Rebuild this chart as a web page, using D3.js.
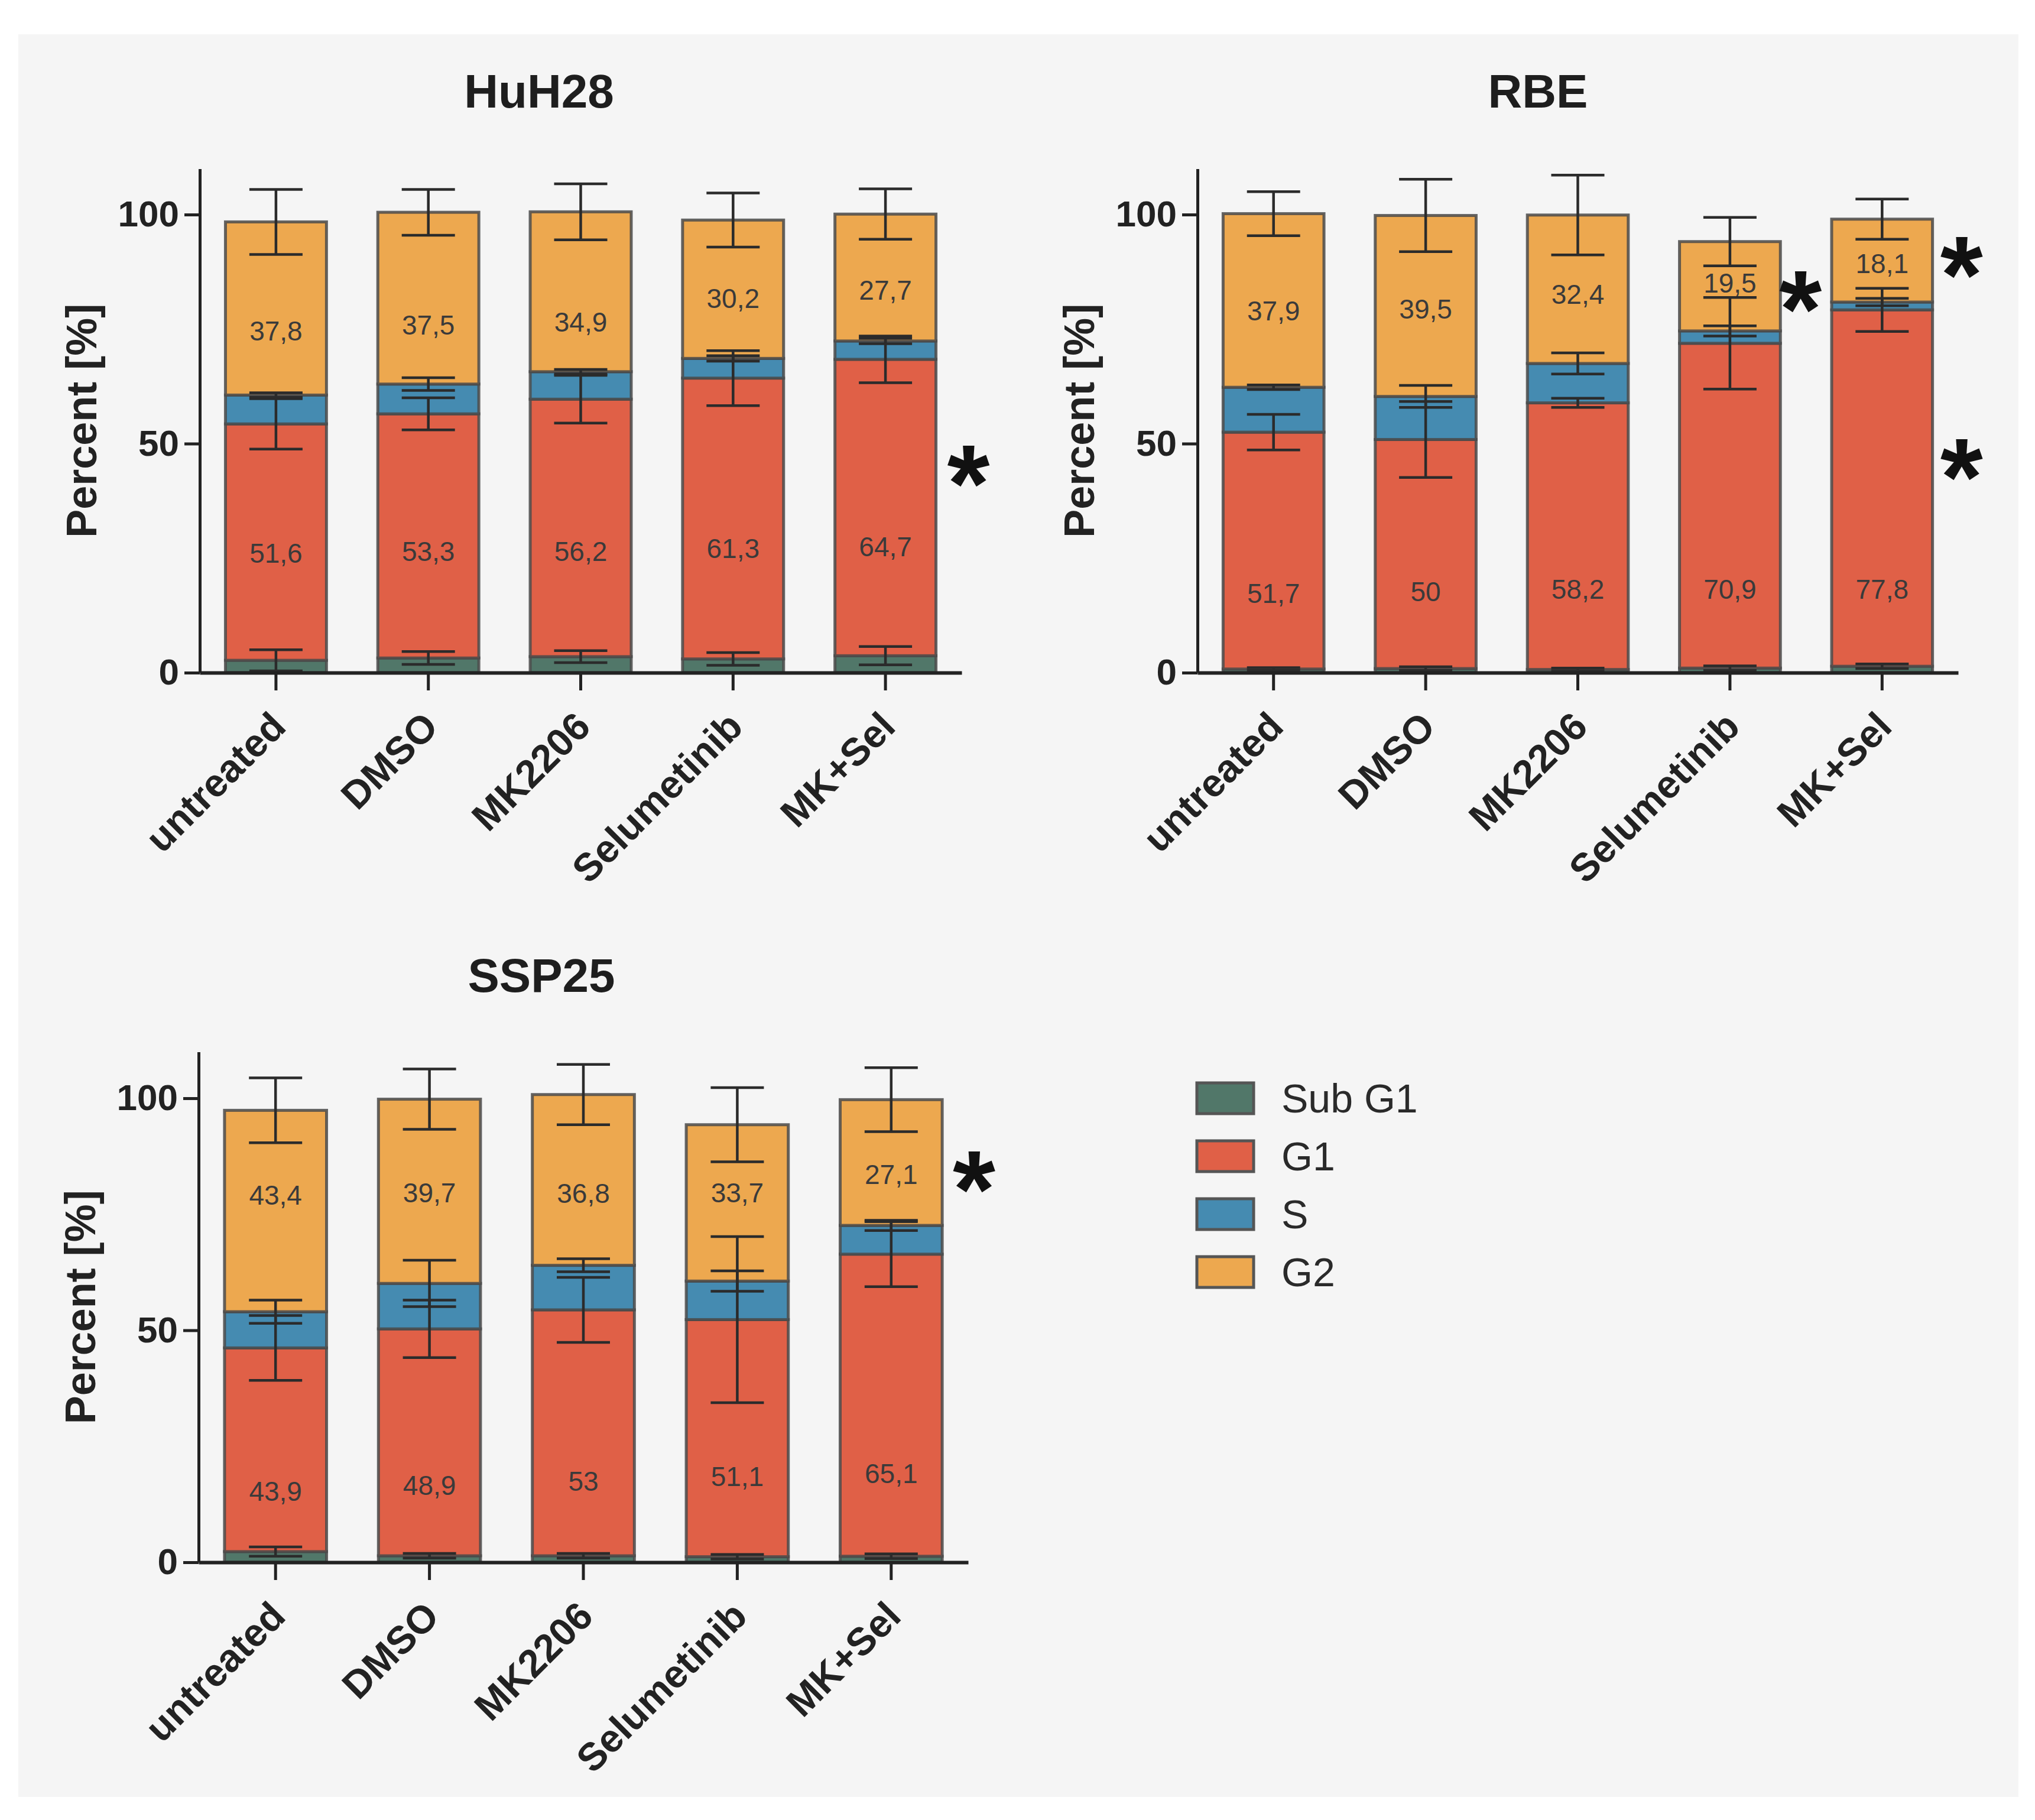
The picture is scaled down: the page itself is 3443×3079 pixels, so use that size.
<!DOCTYPE html>
<html>
<head>
<meta charset="utf-8">
<script src="https://cdn.jsdelivr.net/npm/d3@7"></script>
<style>
  body { margin: 0; background: #ffffff; }
  text { font-family: "Liberation Sans", Arial, sans-serif; }
</style>
</head>
<body>
<div id="chart"></div>
<script>
// SVG area
var svgWidth = 3443;
var svgHeight = 3079;

// Categories and phases
var categories = ["untreated", "DMSO", "MK2206", "Selumetinib", "MK+Sel"];
var phases = ["Sub G1", "G1", "S", "G2"];
var phaseColors = ["#517769", "#E06047", "#458BB1", "#EDA84F"];
var yTicks = [0, 50, 100];

// HuH28 (% of cells per phase, mean and SD)
var huh28SubG1 = [2.7, 3.2, 3.5, 3.0, 3.7];
var huh28G1 = [51.6, 53.3, 56.2, 61.3, 64.7];
var huh28S = [6.3, 6.5, 6.0, 4.3, 4.0];
var huh28G2 = [37.8, 37.5, 34.9, 30.2, 27.7];
var huh28SubG1Err = [2.3, 1.4, 1.3, 1.4, 2.0];
var huh28G1Err = [5.5, 3.5, 5.2, 6.0, 5.1];
var huh28SErr = [0.5, 1.4, 0.5, 0.6, 0.6];
var huh28G2Err = [7.1, 5.0, 6.1, 5.9, 5.5];

// RBE
var rbeSubG1 = [0.8, 0.9, 0.7, 1.0, 1.4];
var rbeG1 = [51.7, 50, 58.2, 70.9, 77.8];
var rbeS = [9.8, 9.4, 8.6, 2.7, 1.7];
var rbeG2 = [37.9, 39.5, 32.4, 19.5, 18.1];
var rbeSubG1Err = [0.3, 0.4, 0.3, 0.5, 0.5];
var rbeG1Err = [3.9, 8.3, 1.0, 10.0, 4.7];
var rbeSErr = [0.5, 2.4, 2.3, 1.1, 0.8];
var rbeG2Err = [4.8, 7.9, 8.7, 5.3, 4.4];

// SSP25
var ssp25SubG1 = [2.3, 1.4, 1.4, 1.2, 1.3];
var ssp25G1 = [43.9, 48.9, 53, 51.1, 65.1];
var ssp25S = [7.8, 9.8, 9.6, 8.3, 6.2];
var ssp25G2 = [43.4, 39.7, 36.8, 33.7, 27.1];
var ssp25SubG1Err = [1.0, 0.5, 0.5, 0.5, 0.5];
var ssp25G1Err = [7.0, 6.2, 7.0, 17.9, 7.0];
var ssp25SErr = [2.5, 5.0, 1.4, 2.2, 1.1];
var ssp25G2Err = [7.0, 6.5, 6.5, 8.0, 6.9];

// where the numbers inside the bars sit (in %)
var huh28G1LabelAt = [26.2, 26.5, 26.5, 27.2, 27.6];
var huh28G2LabelAt = [74.6, 75.9, 76.6, 81.7, 83.6];
var rbeG1LabelAt = [17.4, 17.7, 18.3, 18.3, 18.3];
var rbeG2LabelAt = [79.0, 79.4, 82.7, 85.1, 89.3];
var ssp25G1LabelAt = [15.4, 16.6, 17.5, 18.5, 19.2];
var ssp25G2LabelAt = [79.2, 79.7, 79.5, 79.7, 83.7];

// significance marks: category and level (%)
var huh28Stars = [{ category: "MK+Sel", value: 44.5 }];
var rbeStars = [{ category: "Selumetinib", value: 82.6 }, { category: "MK+Sel", value: 90.1 }, { category: "MK+Sel", value: 45.9 }];
var ssp25Stars = [{ category: "MK+Sel", value: 83.6 }];

var panels = [
  {
    title: "HuH28",
    values: [huh28SubG1, huh28G1, huh28S, huh28G2],
    errors: [huh28SubG1Err, huh28G1Err, huh28SErr, huh28G2Err],
    g1LabelAt: huh28G1LabelAt, g2LabelAt: huh28G2LabelAt,
    stars: huh28Stars, starGap: [55],
    left: 338, right: 1627, zero: 1138, hundred: 363,
    titleX: 912, titleY: 182
  },
  {
    title: "RBE",
    values: [rbeSubG1, rbeG1, rbeS, rbeG2],
    errors: [rbeSubG1Err, rbeG1Err, rbeSErr, rbeG2Err],
    g1LabelAt: rbeG1LabelAt, g2LabelAt: rbeG2LabelAt,
    stars: rbeStars, starGap: [34, 49, 49],
    left: 2026, right: 3313, zero: 1138, hundred: 363,
    titleX: 2602, titleY: 182
  },
  {
    title: "SSP25",
    values: [ssp25SubG1, ssp25G1, ssp25S, ssp25G2],
    errors: [ssp25SubG1Err, ssp25G1Err, ssp25SErr, ssp25G2Err],
    g1LabelAt: ssp25G1LabelAt, g2LabelAt: ssp25G2LabelAt,
    stars: ssp25Stars, starGap: [54],
    left: 336, right: 1638, zero: 2643, hundred: 1858,
    titleX: 916, titleY: 1678
  }
];

var svg = d3.select("#chart")
    .append("svg")
    .attr("width", svgWidth)
    .attr("height", svgHeight);

// grey figure background
svg.append("rect")
    .attr("x", 31)
    .attr("y", 58)
    .attr("width", 3384)
    .attr("height", 2982)
    .attr("fill", "#f5f5f5");

function fmt(v) {
  return String(v).replace(".", ",");
}

function drawPanel(p) {
  var perUnit = (p.zero - p.hundred) / 100;
  var yScale = d3.scaleLinear()
      .domain([0, 110])
      .range([p.zero, p.zero - 110 * perUnit]);
  var xScale = d3.scaleBand()
      .domain(categories)
      .range([p.left, p.right])
      .paddingInner(0.337)
      .paddingOuter(0.1685);
  var bw = xScale.bandwidth();

  var g = svg.append("g");

  // build rows for the stack
  var rows = categories.map(function(c, i) {
    var r = { category: c };
    phases.forEach(function(ph, k) { r[ph] = p.values[k][i]; });
    return r;
  });
  var layers = d3.stack().keys(phases)(rows);

  // bars
  layers.forEach(function(layer, k) {
    g.append("g")
        .selectAll("rect")
        .data(layer)
        .enter()
        .append("rect")
        .attr("x", d => xScale(d.data.category))
        .attr("y", d => yScale(d[1]))
        .attr("width", bw)
        .attr("height", d => yScale(d[0]) - yScale(d[1]))
        .attr("fill", phaseColors[k])
        .attr("stroke", "#4a4a4a")
        .attr("stroke-opacity", 0.85)
        .attr("stroke-width", 5);
  });

  // error bars at the top of each segment
  layers.forEach(function(layer, k) {
    var eg = g.append("g")
        .attr("stroke", "#2b2b2b")
        .attr("stroke-width", 4.5);
    layer.forEach(function(d, i) {
      var cx = xScale(d.data.category) + bw / 2;
      var e = p.errors[k][i];
      var lo = yScale(d[1] - e);
      var hi = yScale(d[1] + e);
      eg.append("line").attr("x1", cx).attr("x2", cx).attr("y1", lo).attr("y2", hi);
      eg.append("line").attr("x1", cx - 45).attr("x2", cx + 45).attr("y1", lo).attr("y2", lo);
      eg.append("line").attr("x1", cx - 45).attr("x2", cx + 45).attr("y1", hi).attr("y2", hi);
    });
  });

  // values written inside G1 and G2
  [[1, p.g1LabelAt], [3, p.g2LabelAt]].forEach(function(pair) {
    var k = pair[0], at = pair[1];
    g.append("g")
        .selectAll("text")
        .data(categories)
        .enter()
        .append("text")
        .attr("x", c => xScale(c) + bw / 2)
        .attr("y", (c, i) => yScale(at[i]))
        .attr("dy", "0.36em")
        .attr("text-anchor", "middle")
        .attr("font-size", 46)
        .attr("fill", "#3a3a3a")
        .text((c, i) => fmt(p.values[k][i]));
  });

  // axes
  var xAxis = d3.axisBottom(xScale).tickSize(30).tickSizeOuter(0);
  var yAxis = d3.axisLeft(yScale).tickValues(yTicks).tickSize(26).tickSizeOuter(0).tickPadding(9);

  var gx = g.append("g")
      .attr("transform", `translate(0, ${p.zero})`)
      .call(xAxis);
  gx.select(".domain").attr("stroke", "#222").attr("stroke-width", 6);
  gx.selectAll(".tick line").attr("stroke", "#222").attr("stroke-width", 5);
  gx.selectAll(".tick text")
      .attr("x", 0)
      .attr("y", 0)
      .attr("dy", null)
      .attr("text-anchor", "end")
      .attr("transform", "translate(20, 95) rotate(-45)")
      .attr("font-size", 66)
      .attr("font-weight", "bold")
      .attr("fill", "#222");

  var gy = g.append("g")
      .attr("transform", `translate(${p.left}, 0)`)
      .call(yAxis);
  gy.select(".domain").attr("stroke", "#222").attr("stroke-width", 5);
  gy.selectAll(".tick line").attr("stroke", "#222").attr("stroke-width", 5);
  gy.selectAll(".tick text")
      .attr("font-size", 62)
      .attr("font-weight", "bold")
      .attr("fill", "#222");

  // y label
  g.append("text")
      .attr("transform", `translate(${p.left - 175}, ${(p.zero + yScale(110)) / 2}) rotate(-90)`)
      .attr("text-anchor", "middle")
      .attr("font-size", 72)
      .attr("font-weight", "bold")
      .attr("fill", "#222")
      .text("Percent [%]");

  // title
  g.append("text")
      .attr("x", p.titleX)
      .attr("y", p.titleY)
      .attr("text-anchor", "middle")
      .attr("font-size", 80)
      .attr("font-weight", "bold")
      .attr("fill", "#1e1e1e")
      .text(p.title);

  // asterisks
  p.stars.forEach(function(s, i) {
    g.append("text")
        .attr("x", xScale(s.category) + bw + p.starGap[i])
        .attr("y", yScale(s.value))
        .attr("dy", "0.48em")
        .attr("text-anchor", "middle")
        .attr("font-size", 185)
        .attr("font-weight", "bold")
        .attr("fill", "#111")
        .text("*");
  });
}

panels.forEach(drawPanel);

// legend
var legend = svg.append("g").attr("transform", "translate(2025, 1832)");
phases.forEach(function(ph, k) {
  var row = legend.append("g").attr("transform", `translate(0, ${k * 98})`);
  row.append("rect")
      .attr("width", 96)
      .attr("height", 52)
      .attr("fill", phaseColors[k])
      .attr("stroke", "#555")
      .attr("stroke-width", 5);
  row.append("text")
      .attr("x", 143)
      .attr("y", 50)
      .attr("font-size", 68)
      .attr("fill", "#2a2a2a")
      .text(ph);
});
</script>
</body>
</html>
